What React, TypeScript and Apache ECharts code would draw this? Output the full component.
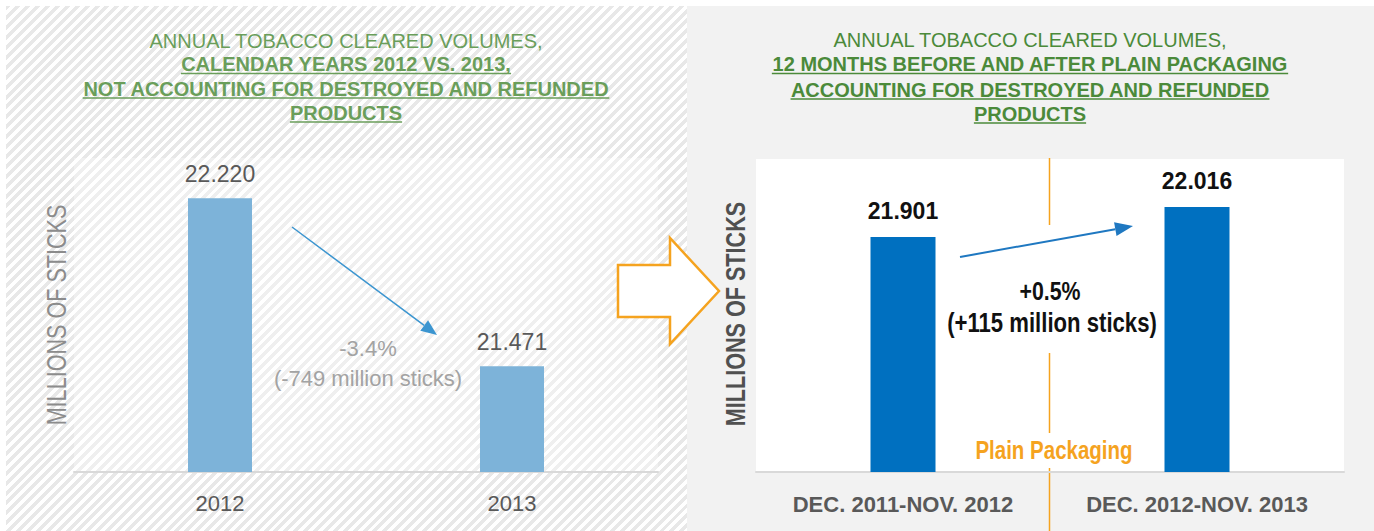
import React, { useEffect, useRef } from 'react';
import * as echarts from 'echarts';

const leftCategories = ['2012', '2013'];
const leftValues = [22.22, 21.471];
const rightCategories = ['DEC. 2011-NOV. 2012', 'DEC. 2012-NOV. 2013'];
const rightValues = [21.901, 22.016];
const leftTitle = [
  'ANNUAL TOBACCO CLEARED VOLUMES,',
  'CALENDAR YEARS 2012 VS. 2013,',
  'NOT ACCOUNTING FOR DESTROYED AND REFUNDED',
  'PRODUCTS',
];
const rightTitle = [
  'ANNUAL TOBACCO CLEARED VOLUMES,',
  '12 MONTHS BEFORE AND AFTER PLAIN PACKAGING',
  'ACCOUNTING FOR DESTROYED AND REFUNDED',
  'PRODUCTS',
];
const leftNote = ['-3.4%', '(-749 million sticks)'];
const rightNote = ['+0.5%', '(+115 million sticks)'];
const yAxisName = 'MILLIONS OF STICKS';
const dividerLabel = 'Plain Packaging';

const FONT = '"Liberation Sans", Arial, sans-serif';

function measure(text: string, font: string): number {
  const c = document.createElement('canvas');
  const ctx = c.getContext('2d');
  if (!ctx) return text.length * 10;
  ctx.font = font;
  return ctx.measureText(text).width;
}

function arrow(x1: number, y1: number, x2: number, y2: number, color: string, w: number, hl: number, hw: number) {
  const dx = x2 - x1;
  const dy = y2 - y1;
  const len = Math.sqrt(dx * dx + dy * dy);
  const ux = dx / len;
  const uy = dy / len;
  const bx = x2 - ux * hl;
  const by = y2 - uy * hl;
  const px = -uy;
  const py = ux;
  return [
    { type: 'line', silent: true, shape: { x1, y1, x2: bx, y2: by }, style: { stroke: color, lineWidth: w } },
    {
      type: 'polygon',
      silent: true,
      shape: { points: [[x2, y2], [bx + px * hw / 2, by + py * hw / 2], [bx - px * hw / 2, by - py * hw / 2]] },
      style: { fill: color },
    },
  ];
}

function titleBlock(lines: string[], cx: number, ys: number[], color: string) {
  const els: any[] = [];
  lines.forEach((t, i) => {
    const bold = i > 0;
    const size = 20;
    els.push({
      type: 'text',
      silent: true,
      x: cx,
      y: ys[i],
      style: {
        text: t,
        fill: color,
        font: `${bold ? 'bold ' : ''}${size}px ${FONT}`,
        textAlign: 'center',
        textVerticalAlign: 'middle',
      },
    });
    if (bold) {
      const w = measure(t, `bold ${size}px ${FONT}`);
      els.push({
        type: 'line',
        silent: true,
        shape: { x1: cx - w / 2, y1: ys[i] + 9.5, x2: cx + w / 2, y2: ys[i] + 9.5 },
        style: { stroke: color, lineWidth: 1.5 },
      });
    }
  });
  return els;
}

function narrowText(text: string, x: number, y: number, font: string, fill: string, sx: number, rotation = 0) {
  return {
    type: 'text',
    silent: true,
    x,
    y,
    rotation,
    scaleX: sx,
    style: { text, fill, font, textAlign: 'center', textVerticalAlign: 'middle' },
  };
}

export default function App() {
  const ref = useRef<HTMLDivElement>(null);
  useEffect(() => {
    if (!ref.current) return;
    const chart = echarts.init(ref.current, undefined, { renderer: 'svg' });
    const orange = '#f5a31f';
    const graphic: any[] = [
      ...titleBlock(leftTitle, 346, [41, 64, 88.5, 112.5], '#6a9e5a'),
      ...titleBlock(rightTitle, 1030, [40, 64, 89.5, 113.5], '#4b8a3a'),
      narrowText(yAxisName, 57, 315, `27px ${FONT}`, '#8c8c8c', 0.8, Math.PI / 2),
      narrowText(yAxisName, 736, 314, `bold 27px ${FONT}`, '#505050', 0.8, Math.PI / 2),
      {
        type: 'text',
        silent: true,
        x: 368,
        y: 348,
        style: { text: leftNote[0], fill: '#a3a3a3', font: `22px ${FONT}`, textAlign: 'center', textVerticalAlign: 'middle' },
      },
      {
        type: 'text',
        silent: true,
        x: 368,
        y: 378,
        style: { text: leftNote[1], fill: '#a3a3a3', font: `22px ${FONT}`, textAlign: 'center', textVerticalAlign: 'middle' },
      },
      ...arrow(292, 227, 437, 335, '#3b95d0', 1.5, 16, 13),
      ...arrow(960, 257, 1133, 226, '#1f78c1', 2, 18, 14),
      // orange divider
      { type: 'line', silent: true, shape: { x1: 1049.5, y1: 158, x2: 1049.5, y2: 225 }, style: { stroke: orange, lineWidth: 1.5 } },
      { type: 'line', silent: true, shape: { x1: 1049.5, y1: 353, x2: 1049.5, y2: 433 }, style: { stroke: orange, lineWidth: 1.5 } },
      { type: 'line', silent: true, shape: { x1: 1049.5, y1: 468, x2: 1049.5, y2: 531 }, style: { stroke: orange, lineWidth: 1.5 } },
      narrowText(dividerLabel, 1054, 450, `bold 25px ${FONT}`, orange, 0.82),
      narrowText(rightNote[0], 1050, 291, `bold 26px ${FONT}`, '#111111', 0.82),
      narrowText(rightNote[1], 1052, 323, `bold 27px ${FONT}`, '#111111', 0.82),
      // hollow orange arrow
      {
        type: 'polygon',
        silent: true,
        shape: { points: [[618, 265], [670, 265], [670, 238], [719, 291], [670, 344], [670, 317], [618, 317]] },
        style: { fill: '#ffffff', stroke: orange, lineWidth: 2.5 },
      },
    ];

    chart.setOption({
      animation: false,
      grid: [
        { left: 74, top: 158, width: 584, height: 314, show: true, backgroundColor: 'rgba(255,255,255,0.3)', borderWidth: 0 },
        { left: 756, top: 159, width: 588, height: 313, show: true, backgroundColor: '#ffffff', borderWidth: 0 },
      ],
      xAxis: [
        {
          type: 'category',
          gridIndex: 0,
          data: leftCategories,
          axisLine: { lineStyle: { color: '#d9d9d9', width: 2 } },
          axisTick: { show: false },
          axisLabel: { fontSize: 22, color: '#595959', margin: 20, fontFamily: FONT },
        },
        {
          type: 'category',
          gridIndex: 1,
          data: rightCategories,
          axisLine: { lineStyle: { color: '#d9d9d9', width: 2 } },
          axisTick: { show: false },
          axisLabel: { fontSize: 22, fontWeight: 'bold', color: '#595959', margin: 21, fontFamily: FONT },
        },
      ],
      yAxis: [
        { type: 'value', gridIndex: 0, min: 21, max: 22.4, show: false },
        { type: 'value', gridIndex: 1, min: 21, max: 22.2, show: false },
      ],
      series: [
        {
          type: 'bar',
          xAxisIndex: 0,
          yAxisIndex: 0,
          data: leftValues,
          barWidth: 64,
          itemStyle: { color: '#7db3d9' },
          label: {
            show: true,
            position: 'top',
            distance: 13,
            fontSize: 23,
            color: '#595959',
            fontFamily: FONT,
            formatter: (p: any) => Number(p.value).toFixed(3),
          },
        },
        {
          type: 'bar',
          xAxisIndex: 1,
          yAxisIndex: 1,
          data: rightValues,
          barWidth: 65,
          itemStyle: { color: '#0070c0' },
          label: {
            show: true,
            position: 'top',
            distance: 14,
            fontSize: 23,
            fontWeight: 'bold',
            color: '#111111',
            fontFamily: FONT,
            formatter: (p: any) => Number(p.value).toFixed(3),
          },
        },
      ],
      graphic,
    });
    return () => chart.dispose();
  }, []);

  return (
    <div style={{ position: 'fixed', left: 0, top: 0, width: 1374, height: 531, background: '#ffffff' }}>
      <div
        style={{
          position: 'absolute',
          left: 6,
          top: 6,
          width: 681,
          height: 525,
          background: 'repeating-linear-gradient(135deg, #e8e8e8 0px, #e8e8e8 3.5px, #ffffff 3.5px, #ffffff 7px)',
        }}
      />
      <div style={{ position: 'absolute', left: 687, top: 6, width: 687, height: 525, background: '#f2f2f2' }} />
      <div ref={ref} style={{ position: 'absolute', left: 0, top: 0, width: 1374, height: 531 }} />
    </div>
  );
}
